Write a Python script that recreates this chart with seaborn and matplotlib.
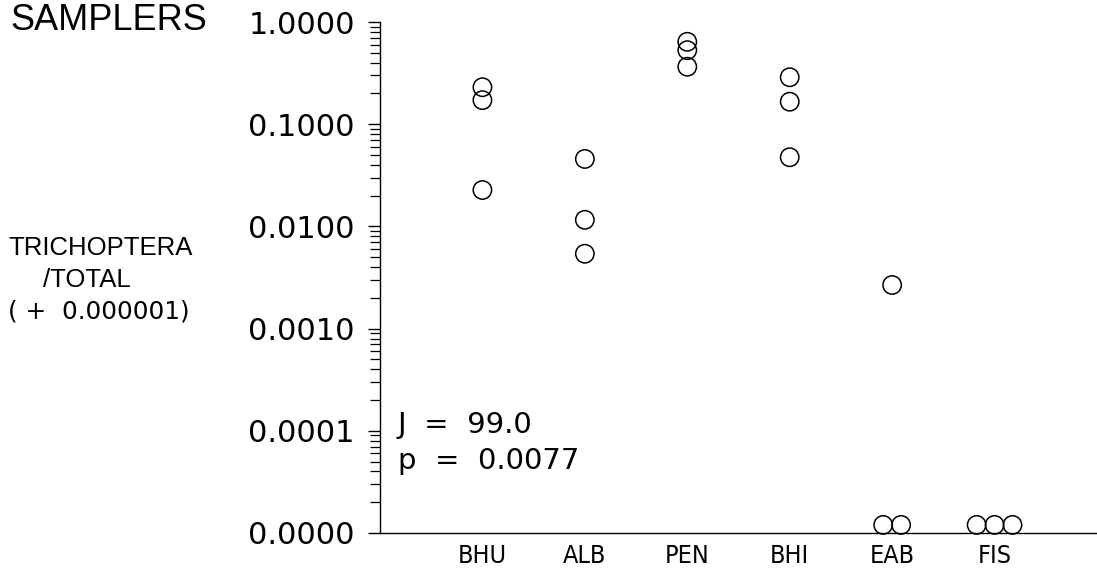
import numpy as np
import pandas as pd
import matplotlib
matplotlib.use("Agg")
import matplotlib.pyplot as plt
import seaborn as sns
from matplotlib.ticker import LogLocator, FixedLocator, FixedFormatter, NullFormatter

# Sampler types along the x axis
samplers = ["BHU", "ALB", "PEN", "BHI", "EAB", "FIS"]

# Trichoptera / total (+ 0.000001), three replicates per sampler
bhu = [0.23, 0.172, 0.0227]
alb = [0.0457, 0.0116, 0.0054]
pen = [0.64, 0.53, 0.365]
bhi = [0.288, 0.166, 0.0475]
eab = [0.00267, 0.000012, 0.000012]
fis = [0.000012, 0.000012, 0.000012]

y_ticks = [1e-5, 1e-4, 1e-3, 1e-2, 1e-1, 1.0]
y_tick_labels = ["0.0000", "0.0001", "0.0010", "0.0100", "0.1000", "1.0000"]

stats_text = "J  =  99.0\np  =  0.0077"

series = [bhu, alb, pen, bhi, eab, fis]

# Spread tied replicates side by side around the category position
rows = []
for i, (name, vals) in enumerate(zip(samplers, series)):
    vals = np.asarray(vals)
    for v in np.unique(vals):
        n = int(np.sum(vals == v))
        for k in range(n):
            rows.append({"sampler": name, "pos": i + (k - (n - 1) / 2) * 0.175, "ratio": v})
df = pd.DataFrame(rows)

sns.set_style("ticks")
plt.rcParams["font.family"] = ["DejaVu Sans"]
plt.rcParams["text.color"] = "black"
plt.rcParams["xtick.color"] = "black"
plt.rcParams["ytick.color"] = "black"

fig = plt.figure(figsize=(10.97, 5.72), dpi=100)
ax = fig.add_axes([380 / 1097, 1 - 533 / 572, 1 - 380 / 1097, (533 - 22) / 572])

sns.scatterplot(data=df, x="pos", y="ratio", ax=ax, s=175, marker="o",
                facecolor="none", edgecolor="black", linewidth=1.1,
                legend=False, clip_on=False, zorder=3)

ax.set_yscale("log")
ax.set_ylim(1e-5, 1.0)
ax.set_xlim(-1.0, 6.0)

ax.yaxis.set_major_locator(FixedLocator(y_ticks))
ax.yaxis.set_major_formatter(FixedFormatter(y_tick_labels))
ax.yaxis.set_minor_locator(LogLocator(base=10, subs=np.arange(2, 10)))
ax.yaxis.set_minor_formatter(NullFormatter())

ax.set_xticks(range(len(samplers)))
ax.set_xticklabels(samplers)

ax.tick_params(axis="y", which="major", length=9, width=1.0, direction="out",
               labelsize=22, pad=9)
ax.tick_params(axis="y", which="minor", length=7, width=0.9, direction="out")
ax.tick_params(axis="x", which="major", length=0, labelsize=18, pad=8)
for lab in ax.get_xticklabels():
    lab.set_fontstretch("condensed")

ax.set_xlabel("")
ax.set_ylabel("")
for side in ["top", "right"]:
    ax.spines[side].set_visible(False)
for side in ["left", "bottom"]:
    ax.spines[side].set_linewidth(1.0)
    ax.spines[side].set_color("black")

ax.text(18 / 717, (533 - 443) / 511, stats_text, transform=ax.transAxes,
        fontsize=21, ha="left", va="center", linespacing=1.35, color="black")

fig.text(10 / 1097, 1 - 20 / 572, "SAMPLERS", fontsize=26,
         family=["Liberation Sans"], ha="left", va="center", color="black")

# y-axis title, set as three separate lines
fig.text(8 / 1097, 1 - 248 / 572, "TRICHOPTERA", fontsize=18.5,
         family=["Liberation Sans"], ha="left", va="center", color="black")
fig.text(43 / 1097, 1 - 280 / 572, "/TOTAL", fontsize=18.5,
         family=["Liberation Sans"], ha="left", va="center", color="black")
fig.text(8 / 1097, 1 - 312 / 572, "( +  0.000001)", fontsize=17.8,
         ha="left", va="center", color="black")

fig.savefig("out.png", dpi=100, facecolor="white")
